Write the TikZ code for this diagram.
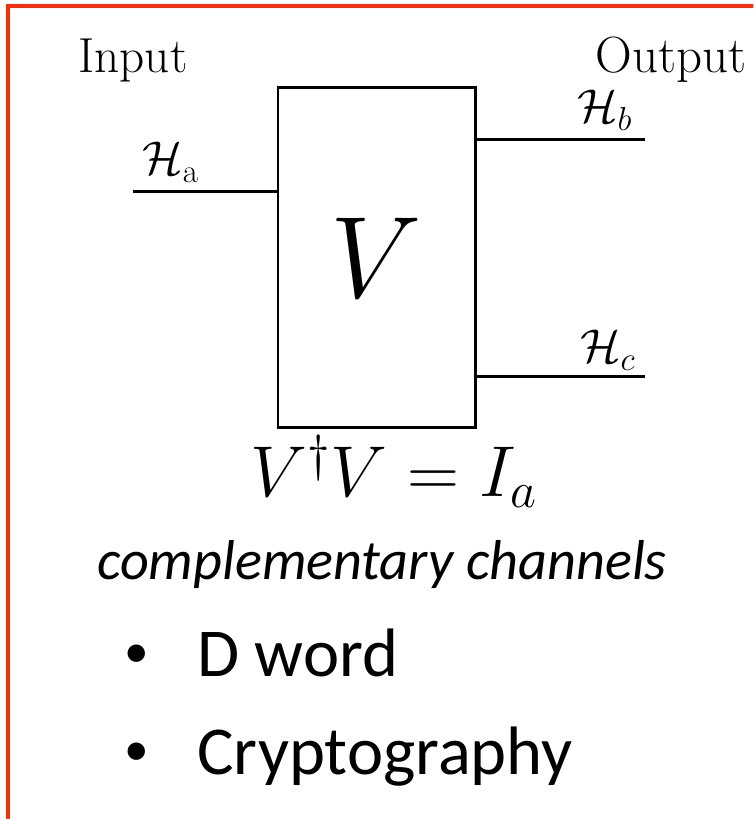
\RequirePackage{fix-cm}
\documentclass[tikz,border=0pt]{standalone}
\usepackage{amsmath}
\usepackage{fontspec}
\newfontfamily\calibri{Carlito}
\usetikzlibrary{positioning, calc}
\definecolor{framered}{RGB}{250,45,10}

\begin{document}
\begin{tikzpicture}[
    wire/.style={line width=1.7pt},
    chan/.style={draw, line width=1.7pt, minimum width=3.94cm, minimum height=6.8cm, inner sep=0pt, font=\fontsize{66}{70}\selectfont},
    lbl/.style={anchor=base, font=\fontsize{27}{31}\selectfont, inner sep=0pt},
    bigtxt/.style={anchor=base west, font=\calibri\fontsize{39}{44}\selectfont, inner sep=0pt},
    dot/.style={anchor=base, font=\calibri\fontsize{28}{32}\selectfont, inner sep=0pt},
]
    \useasboundingbox (0,0) rectangle (15.06,16.38);
    \begin{scope}
        \clip (0,0) rectangle (15.06,16.38);
        \draw[framered, line width=2pt] (0.16,-1) rectangle (16,16.26);
    \end{scope}

    % the channel
    \node[chan] (box) at (7.53, 11.22) {$V$};

    % wires in and out
    \coordinate (ina) at (2.66, 12.54);
    \coordinate (outb) at (12.90, 13.58);
    \coordinate (outc) at (12.90, 8.84);
    \draw[wire] (ina) -- (ina -| box.west);
    \draw[wire] (box.east |- outb) -- (outb);
    \draw[wire] (box.east |- outc) -- (outc);

    \node[lbl] (ha) at (3.42, 12.88) {$\mathcal{H}_{\mathrm{a}}$};
    \node[lbl] (hb) at (12.10, 13.92) {$\mathcal{H}_b$};
    \node[lbl] (hc) at (12.16, 9.12) {$\mathcal{H}_c$};
    \node[lbl, font=\fontsize{28}{32}\selectfont] (input) at (2.66, 14.92) {Input};
    \node[lbl, font=\fontsize{29}{33}\selectfont] (output) at (13.42, 14.92) {Output};

    \node[anchor=base, inner sep=0pt, font=\fontsize{41}{46}\selectfont] (unit) at (7.88, 6.44) {$V^\dagger V = I_a$};
    \node[anchor=base, inner sep=0pt, font=\calibri\itshape\fontsize{32}{36}\selectfont] (comp) at (7.64, 4.78) {complementary channels};

    % bullets
    \node[dot] (b1) at (2.74, 3.02) {•};
    \node[bigtxt] (dword) at (3.94, 2.84) {D word};
    \node[dot] (b2) at (2.74, 1.06) {•};
    \node[bigtxt] (crypto) at (3.94, 0.88) {Cryptography};
\end{tikzpicture}
\end{document}
